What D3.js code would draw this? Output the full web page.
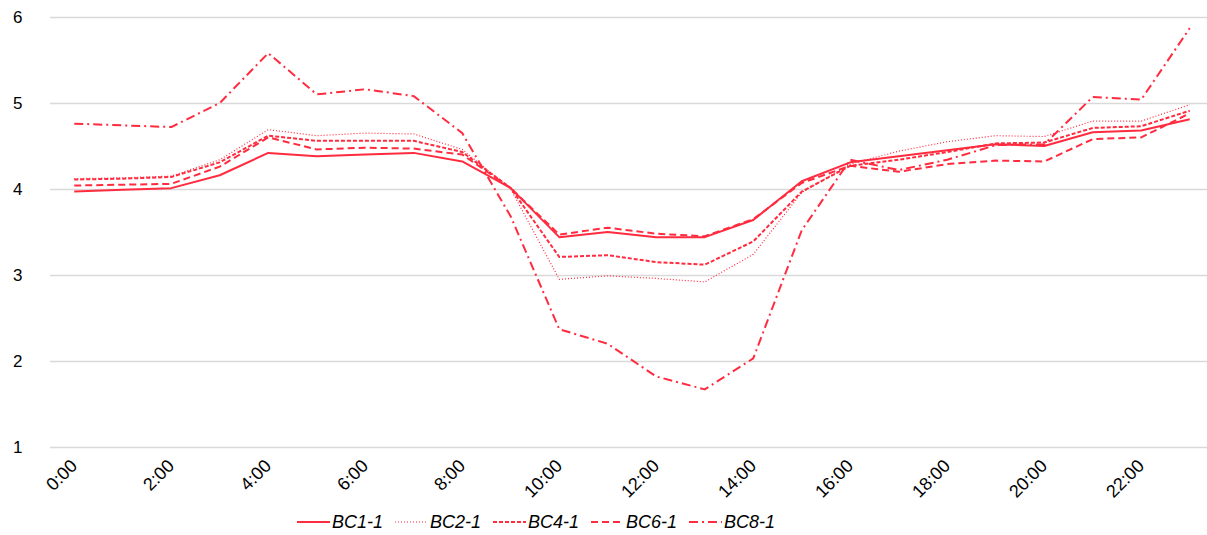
<!DOCTYPE html>
<html>
<head>
<meta charset="utf-8">
<script src="https://cdn.jsdelivr.net/npm/d3@7"></script>
<style>
  body { margin: 0; background: #fff; }
  text { font-family: "Liberation Sans", Arial, sans-serif; }
</style>
</head>
<body>
<div id="chart"></div>
<script>
// hours of the day
var hours = d3.range(24).map(h => h + ":00");
var tickLabels = ["0:00","2:00","4:00","6:00","8:00","10:00","12:00","14:00","16:00","18:00","20:00","22:00"];
var yTicks = [1, 2, 3, 4, 5, 6];

var seriesNames = ["BC1-1", "BC2-1", "BC4-1", "BC6-1", "BC8-1"];

var bc1 = [3.97, 3.99, 4.01, 4.16, 4.42, 4.38, 4.40, 4.42, 4.32, 4.01, 3.44, 3.50, 3.44, 3.44, 3.64, 4.09, 4.31, 4.38, 4.45, 4.52, 4.50, 4.66, 4.68, 4.81];
var bc2 = [4.12, 4.13, 4.15, 4.34, 4.69, 4.62, 4.65, 4.64, 4.46, 4.00, 2.95, 2.99, 2.96, 2.92, 3.24, 3.96, 4.29, 4.44, 4.55, 4.62, 4.61, 4.79, 4.79, 4.98];
var bc4 = [4.11, 4.12, 4.14, 4.31, 4.62, 4.56, 4.56, 4.56, 4.43, 4.01, 3.21, 3.23, 3.15, 3.12, 3.39, 3.97, 4.27, 4.34, 4.43, 4.53, 4.54, 4.71, 4.73, 4.91];
var bc6 = [4.04, 4.05, 4.06, 4.26, 4.60, 4.46, 4.48, 4.47, 4.40, 4.01, 3.47, 3.55, 3.48, 3.45, 3.65, 4.07, 4.27, 4.20, 4.29, 4.33, 4.32, 4.58, 4.60, 4.88];
var bc8 = [4.76, 4.74, 4.72, 5.00, 5.58, 5.10, 5.16, 5.08, 4.65, 3.68, 2.37, 2.20, 1.82, 1.67, 2.03, 3.52, 4.34, 4.22, 4.34, 4.51, 4.52, 5.07, 5.04, 5.87];

var seriesValues = [bc1, bc2, bc4, bc6, bc8];
var dashes = [null, "1,2", "4,2", "7,4", "9,4,2,4"];
var widths = [2, 1.2, 2, 2, 2];
var red = "#ff2b3f";

var W = 1207, H = 535;
var svg = d3.select("#chart").append("svg")
    .attr("width", W)
    .attr("height", H);

var x = d3.scaleBand()
    .domain(hours)
    .range([50, 1214]);

var y = d3.scaleLinear()
    .domain([1, 6])
    .range([447, 17]);

// grid lines
svg.append("g")
    .attr("class", "grid")
    .attr("transform", "translate(50,0)")
    .call(d3.axisLeft(y).tickValues(yTicks).tickSize(-1164).tickFormat(""))
    .call(g => g.select(".domain").remove())
    .call(g => g.selectAll("line").attr("stroke", "#d9d9d9").attr("stroke-width", 1.5));

// y labels
svg.append("g")
    .attr("transform", "translate(50,0)")
    .call(d3.axisLeft(y).tickValues(yTicks).tickSize(0).tickFormat(d3.format("d")))
    .call(g => g.select(".domain").remove())
    .call(g => g.selectAll("text")
        .attr("font-size", 17)
        .attr("fill", "#000")
        .attr("text-anchor", "start")
        .attr("x", -37));

// x labels
svg.append("g")
    .attr("transform", "translate(0,447)")
    .call(d3.axisBottom(x).tickValues(tickLabels).tickSize(0).tickPadding(0))
    .call(g => g.select(".domain").remove())
    .call(g => g.selectAll("text")
        .attr("font-size", 18)
        .attr("fill", "#000")
        .attr("text-anchor", "end")
        .attr("dy", 0)
        .attr("y", 0)
        .attr("transform", "translate(4,20) rotate(-45)"));

var line = d3.line()
    .x((d, i) => x(hours[i]) + x.bandwidth() / 2)
    .y(d => y(d));

seriesValues.forEach(function (vals, k) {
    svg.append("path")
        .datum(vals)
        .attr("fill", "none")
        .attr("stroke", red)
        .attr("stroke-width", widths[k])
        .attr("stroke-dasharray", dashes[k])
        .attr("stroke-linejoin", "round")
        .attr("d", line);
});

// legend
var legendX = [297, 395, 493, 591, 689];
var legend = svg.append("g").attr("class", "legend");
seriesNames.forEach(function (name, k) {
    var g = legend.append("g").attr("transform", "translate(" + legendX[k] + ",522)");
    g.append("line")
        .attr("x1", 0).attr("x2", 33)
        .attr("stroke", red)
        .attr("stroke-width", widths[k])
        .attr("stroke-dasharray", dashes[k]);
    g.append("text")
        .attr("x", 35)
        .attr("dy", "0.35em")
        .attr("font-size", 18)
        .attr("font-style", "italic")
        .attr("fill", "#000")
        .text(name);
});
</script>
</body>
</html>
